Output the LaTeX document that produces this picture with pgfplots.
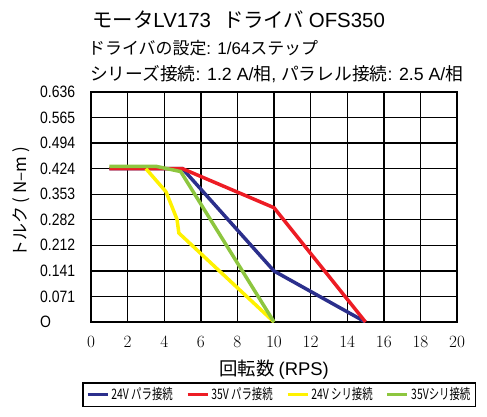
\documentclass[border=0pt]{standalone}
\usepackage{fontspec}
\usepackage{pgfplots}
\pgfplotsset{compat=1.18}
\setmainfont{Liberation Sans}
\newfontfamily\jp{Noto Sans CJK JP}
\newfontfamily\jpc[FakeStretch=0.72]{Noto Sans CJK JP}
\newfontfamily\cond[FakeStretch=0.85]{Liberation Sans}
\newcommand\lat[1]{{\rmfamily #1}}
\definecolor{cblue}{RGB}{43,47,140}
\definecolor{cred}{RGB}{237,28,36}
\definecolor{cyellow}{RGB}{255,242,0}
\definecolor{cgreen}{RGB}{141,198,63}
\begin{document}
\begin{tikzpicture}[x=1bp,y=1bp]
\useasboundingbox (0,0) rectangle (487,416);
\node[anchor=base west,inner sep=0] at (92,388) {\jp\fontsize{20.5}{23}\selectfont モータ\lat{LV173}\hspace{12bp}ドライバ \lat{OFS350}};
\node[anchor=base west,inner sep=0] at (88,362) {\jp\fontsize{17}{19}\selectfont ドライバの設定\lat{: 1/64}ステップ};
\node[anchor=base west,inner sep=0] at (90,336) {\jp\fontsize{17.8}{19}\selectfont シリーズ接続\lat{: 1.2 A/}相\lat{, }パラレル接続\lat{: 2.5 A/}相};
\begin{axis}[
  at={(91bp,94bp)}, anchor=south west,
  scale only axis, width=366bp, height=230bp,
  xmin=0, xmax=20, ymin=0, ymax=0.636,
  xtick={0,2,...,20},
  ytick={0,0.0707,0.1413,0.212,0.2827,0.3533,0.424,0.4947,0.5653,0.636},
  yticklabels={O,0.071,0.141,0.212,0.282,0.353,0.424,0.494,0.565,0.636},
  grid=major,
  major grid style={black, line width=1.4bp},
  axis line style={black, line width=2bp},
  tick style={draw=none},
  yticklabel style={anchor=west, xshift=-51bp, inner sep=0pt, font=\cond\fontsize{16.5}{18}\selectfont},
  xticklabel style={font=\cond\fontsize{16.5}{18}\selectfont, yshift=-11bp},
  xlabel={\jp\fontsize{18.5}{21}\selectfont 回転数 \lat{(RPS)}},
  xlabel style={at={(axis description cs:0.5,-0.15)}, anchor=north},
  ylabel={\jp\fontsize{17}{20}\selectfont トルク ( N–m )},
  ylabel style={at={(axis description cs:-0.19,0.52)}, anchor=center},
  legend columns=4,
  legend style={at={(axis description cs:0.514,-0.261)}, anchor=north,
    draw=black, line width=1.5bp, font=\jpc\fontsize{14.5}{17}\selectfont,
    inner xsep=3bp, inner ysep=3bp,
    /tikz/every even column/.append style={column sep=11bp}},
  legend image code/.code={\draw[#1] plot coordinates {(0bp,0bp) (20bp,0bp)};},
  every axis plot/.append style={line width=3.5bp},
]
\addplot[cblue] coordinates {(1,0.424) (5,0.424) (10,0.141) (15,0)};
\addlegendentry{24V パラ接続}
\addplot[cred] coordinates {(1,0.424) (5,0.424) (10,0.316) (15,0)};
\addlegendentry{35V パラ接続}
\addplot[cyellow] coordinates {(3,0.424) (4.1,0.36) (4.7,0.284) (4.8,0.246) (10,0)};
\addlegendentry{24V シリ接続}
\addplot[cgreen] coordinates {(1,0.43) (3.6,0.43) (4.9,0.416) (10,0)};
\addlegendentry{35Vシリ接続}
\end{axis}
\end{tikzpicture}
\end{document}
